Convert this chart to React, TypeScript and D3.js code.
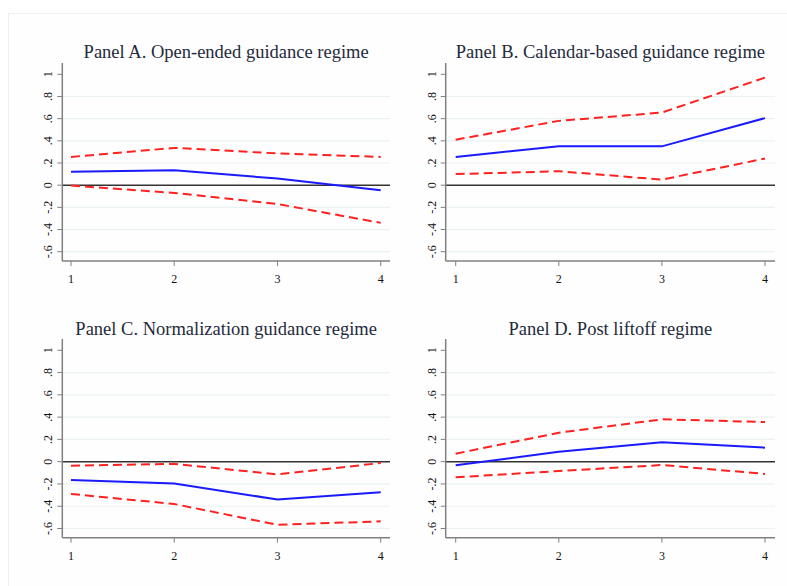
import React from "react";
import * as d3 from "d3";

const steps = [1, 2, 3, 4];
const yTicks = [-0.6, -0.4, -0.2, 0, 0.2, 0.4, 0.6, 0.8, 1];
const yTickLabels = ["-.6", "-.4", "-.2", "0", ".2", ".4", ".6", ".8", "1"];

const titles = [
  "Panel A. Open-ended guidance regime",
  "Panel B. Calendar-based guidance regime",
  "Panel C. Normalization guidance regime",
  "Panel D. Post liftoff regime",
];

const estA = [0.12, 0.135, 0.06, -0.045];
const upperA = [0.255, 0.336, 0.286, 0.255];
const lowerA = [-0.004, -0.07, -0.17, -0.34];

const estB = [0.255, 0.35, 0.35, 0.605];
const upperB = [0.41, 0.58, 0.655, 0.97];
const lowerB = [0.1, 0.126, 0.05, 0.24];

const estC = [-0.165, -0.195, -0.34, -0.275];
const upperC = [-0.036, -0.02, -0.114, -0.012];
const lowerC = [-0.29, -0.38, -0.566, -0.536];

const estD = [-0.033, 0.09, 0.174, 0.126];
const upperD = [0.072, 0.26, 0.38, 0.356];
const lowerD = [-0.14, -0.084, -0.03, -0.11];

const panelsData = [
  { est: estA, upper: upperA, lower: lowerA },
  { est: estB, upper: upperB, lower: lowerB },
  { est: estC, upper: upperC, lower: lowerC },
  { est: estD, upper: upperD, lower: lowerD },
];

// layout (pixel geometry)
const layouts = [
  { axisX: 62.3, right: 390, x1: 71, x4: 380.7, top: 63, bottom: 261, yTop: 74.3, yBot: 251.7, titleY: 58 },
  { axisX: 445.7, right: 775, x1: 455.7, x4: 765, top: 63, bottom: 261, yTop: 74.3, yBot: 251.7, titleY: 58 },
  { axisX: 62.3, right: 390, x1: 71, x4: 380.7, top: 339, bottom: 537.7, yTop: 350.3, yBot: 528.5, titleY: 335 },
  { axisX: 445.7, right: 775, x1: 455.7, x4: 765, top: 339, bottom: 537.7, yTop: 350.3, yBot: 528.5, titleY: 335 },
];

const serif = "'Liberation Serif', 'Times New Roman', serif";

function Panel({ idx }: { idx: number }) {
  const L = layouts[idx];
  const D = panelsData[idx];
  const x = d3.scaleLinear().domain([1, 4]).range([L.x1, L.x4]);
  const y = d3.scaleLinear().domain([-0.6, 1]).range([L.yBot, L.yTop]);
  const line = d3
    .line<number>()
    .x((_, i) => x(steps[i]))
    .y((d) => y(d));
  const cx = (L.axisX + L.right) / 2;
  return (
    <g>
      <text x={cx} y={L.titleY} textAnchor="middle" fontFamily={serif} fontSize={18.5} fill="#1f2a3c">
        {titles[idx]}
      </text>
      {yTicks.map((t) =>
        t !== 0 && t !== 1 ? (
          <line key={"g" + t} x1={L.axisX} x2={L.right} y1={y(t)} y2={y(t)} stroke="#eaf1f2" strokeWidth={1.2} />
        ) : null
      )}
      <line x1={L.axisX} x2={L.right} y1={y(0)} y2={y(0)} stroke="#333" strokeWidth={1.5} />
      <path d={line(D.upper) || ""} fill="none" stroke="#ff2020" strokeWidth={2} strokeDasharray="9,5" />
      <path d={line(D.lower) || ""} fill="none" stroke="#ff2020" strokeWidth={2} strokeDasharray="9,5" />
      <path d={line(D.est) || ""} fill="none" stroke="#1a1aff" strokeWidth={2} />
      <line x1={L.axisX} x2={L.axisX} y1={L.top} y2={L.bottom} stroke="#808080" strokeWidth={1.5} />
      <line x1={L.axisX} x2={L.right} y1={L.bottom} y2={L.bottom} stroke="#808080" strokeWidth={1.5} />
      {yTicks.map((t, i) => (
        <g key={"t" + t}>
          <line x1={L.axisX - 5} x2={L.axisX} y1={y(t)} y2={y(t)} stroke="#808080" strokeWidth={1} />
          <text
            transform={`translate(${L.axisX - 10},${y(t)}) rotate(-90)`}
            textAnchor="middle"
            fontFamily={serif}
            fontSize={12}
            fill="#111"
          >
            {yTickLabels[i]}
          </text>
        </g>
      ))}
      {steps.map((s) => (
        <g key={"x" + s}>
          <line x1={x(s)} x2={x(s)} y1={L.bottom} y2={L.bottom + 5} stroke="#808080" strokeWidth={1} />
          <text x={x(s)} y={L.bottom + 22} textAnchor="middle" fontFamily={serif} fontSize={12} fill="#111">
            {s}
          </text>
        </g>
      ))}
    </g>
  );
}

export default function App() {
  return (
    <svg
      width={787}
      height={586}
      style={{ position: "absolute", left: 0, top: 0, background: "#fff" }}
    >
      <rect x={8.5} y={13.5} width={790} height={580} fill="#fefefe" stroke="#f0f0f0" strokeWidth={1} />
      {[0, 1, 2, 3].map((i) => (
        <Panel key={i} idx={i} />
      ))}
    </svg>
  );
}
